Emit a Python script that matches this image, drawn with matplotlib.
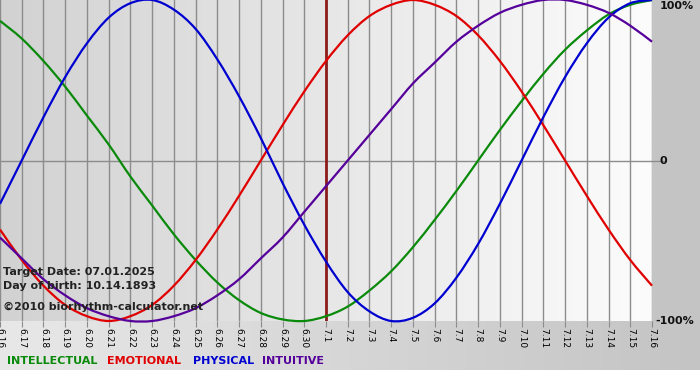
import numpy as np
import matplotlib.pyplot as plt
from matplotlib.path import Path
from matplotlib.patches import PathPatch
from matplotlib.colors import LinearSegmentedColormap

# day labels 6.16 .. 7.16
days = ["6.16", "6.17", "6.18", "6.19", "6.20", "6.21", "6.22", "6.23", "6.24", "6.25",
        "6.26", "6.27", "6.28", "6.29", "6.30", "7.1", "7.2", "7.3", "7.4", "7.5",
        "7.6", "7.7", "7.8", "7.9", "7.10", "7.11", "7.12", "7.13", "7.14", "7.15", "7.16"]

# cycle values (-1 .. 1)
physical = [-0.27, 0.00, 0.27, 0.52, 0.73, 0.89, 0.98, 1.00, 0.94, 0.82, 0.63,
            0.40, 0.14, -0.14, -0.40, -0.63, -0.82, -0.94, -1.00, -0.98, -0.89,
            -0.73, -0.52, -0.27, 0.00, 0.27, 0.52, 0.73, 0.89, 0.98, 1.00]
emotional = [-0.43, -0.62, -0.78, -0.90, -0.97, -1.00, -0.97, -0.90, -0.78, -0.62, -0.43,
             -0.22, 0.00, 0.22, 0.43, 0.62, 0.78, 0.90, 0.97, 1.00, 0.97,
             0.90, 0.78, 0.62, 0.43, 0.22, 0.00, -0.22, -0.43, -0.62, -0.78]
intellectual = [0.87, 0.76, 0.62, 0.46, 0.28, 0.10, -0.10, -0.28, -0.46, -0.62, -0.76,
                -0.87, -0.95, -0.99, -1.00, -0.97, -0.91, -0.81, -0.69, -0.54, -0.37,
                -0.19, 0.00, 0.19, 0.37, 0.54, 0.69, 0.81, 0.91, 0.97, 1.00]
intuitive = [-0.48, -0.61, -0.74, -0.84, -0.92, -0.97, -1.00, -1.00, -0.97, -0.92, -0.84,
             -0.74, -0.61, -0.48, -0.32, -0.16, 0.00, 0.16, 0.32, 0.48, 0.61,
             0.74, 0.84, 0.92, 0.97, 1.00, 1.00, 0.97, 0.92, 0.84, 0.74]
target_day = "7.1"


def smooth_line(ax, xs, ys, color):
    # smooth (bezier) line through the data points, like the original chart
    xs = np.asarray(xs, float)
    ys = np.asarray(ys, float)
    verts = [(xs[0], ys[0])]
    codes = [Path.MOVETO]
    n = len(xs)
    for i in range(n - 1):
        i0 = max(i - 1, 0)
        i3 = min(i + 2, n - 1)
        c1 = (xs[i] + (xs[i + 1] - xs[i0]) / 6, ys[i] + (ys[i + 1] - ys[i0]) / 6)
        c2 = (xs[i + 1] - (xs[i3] - xs[i]) / 6, ys[i + 1] - (ys[i3] - ys[i]) / 6)
        verts += [c1, c2, (xs[i + 1], ys[i + 1])]
        codes += [Path.CURVE4] * 3
    ax.add_patch(PathPatch(Path(verts, codes), fill=False, edgecolor=color,
                           lw=1.6, zorder=3, clip_on=False))


W, H = 700, 380
fig = plt.figure(figsize=(7, 3.8), dpi=100)
fig.patch.set_facecolor("white")

# background panels (pixel coordinates)
bg = fig.add_axes([0, 0, 1, 1])
bg.axis("off")
bg.add_patch(plt.Rectangle((652, 0), 48, 322, color="#c4c4c4", lw=0))
grad = np.linspace(0, 1, 256).reshape(1, -1)
bg.imshow(grad, extent=(0, 700, 370, 321), aspect="auto",
          cmap=LinearSegmentedColormap.from_list("b", ["#e8e8e8", "#c4c4c4"]))
bg.set_xlim(0, W)
bg.set_ylim(H, 0)

x = np.arange(len(days))
ax = fig.add_axes([0, 1 - 321 / H, 652 / W, 321 / H])
ax.set_facecolor("none")
ax.imshow(grad, extent=(0, len(days) - 1, -1, 1), aspect="auto", zorder=0,
          cmap=LinearSegmentedColormap.from_list("p", ["#d2d2d2", "#fcfcfc"]))
ax.set_xlim(0, len(days) - 1)
ax.set_ylim(-1, 1)

for xi in x:
    ax.axvline(xi, color="#8c8c8c", lw=1, zorder=1)
ax.axhline(0, color="#8c8c8c", lw=1, zorder=1, xmax=1.02, clip_on=False)
ax.axvline(days.index(target_day), color="#8b1c1c", lw=2, zorder=2)

smooth_line(ax, x, intellectual, "#0a8a0a")
smooth_line(ax, x, emotional, "#e00000")
smooth_line(ax, x, physical, "#0000d0")
smooth_line(ax, x, intuitive, "#55009a")

for s in ax.spines.values():
    s.set_visible(False)
ax.set_yticks([])
ax.set_xticks(x)
ax.set_xticklabels(days, rotation=270, fontsize=6.5)
ax.tick_params(axis="x", length=4, color="#8c8c8c", pad=1)

for lab, yv in [("100%", 1), ("0", 0), ("-100%", -1)]:
    ax.text(1.012 if lab != "-100%" else 1.005, (yv + 1) / 2 - (0.02 if yv == 1 else 0),
            lab, transform=ax.transAxes, fontsize=8, fontweight="bold",
            va="center", ha="left", color="#111111")

info = ["Target Date: 07.01.2025", "Day of birth: 10.14.1893"]
ax.text(3 / 652, 1 - 272 / 321, info[0], transform=ax.transAxes, fontsize=8,
        fontweight="bold", va="center", color="#222222", zorder=5)
ax.text(3 / 652, 1 - 286 / 321, info[1], transform=ax.transAxes, fontsize=8,
        fontweight="bold", va="center", color="#222222", zorder=5)
ax.text(3 / 652, 1 - 307 / 321, "\u00a92010 biorhythm-calculator.net", transform=ax.transAxes,
        fontsize=8, fontweight="bold", va="center", color="#222222", zorder=5)

legend = [("INTELLECTUAL", "#0a8a0a", 7), ("EMOTIONAL", "#e00000", 107),
          ("PHYSICAL", "#0000d0", 193), ("INTUITIVE", "#55009a", 262)]
for name, col, px in legend:
    fig.text(px / W, 1 - 361 / H, name, color=col, fontsize=8, fontweight="bold", va="center")

plt.savefig("out.png", dpi=100)
